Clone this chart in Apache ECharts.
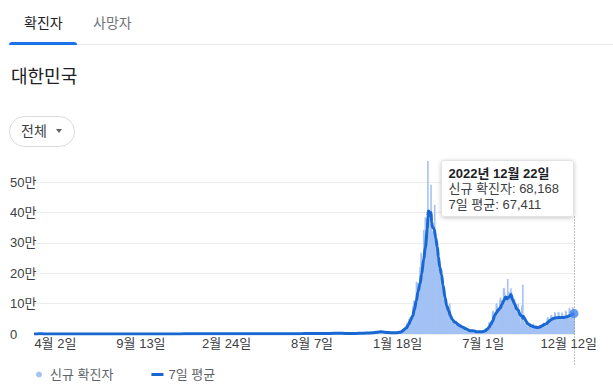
<!DOCTYPE html>
<html>
<head>
<meta charset="utf-8">
<script src="https://cdn.jsdelivr.net/npm/echarts@6/dist/echarts.min.js"></script>
<style>
html,body{margin:0;padding:0;background:#fff;width:613px;height:387px;overflow:hidden;}
body{font-family:"Liberation Sans",Arial,"Noto Sans CJK KR",sans-serif;position:relative;}
#chart{position:absolute;left:0;top:0;width:600px;height:387px;}
.abs{position:absolute;white-space:nowrap;z-index:5;}
</style>
</head>
<body>
<div id="chart"></div>
<div class="abs" style="left:24px;top:13px;font-size:14px;line-height:20px;color:#202124;">확진자</div>
<div class="abs" style="left:93px;top:13px;font-size:14px;line-height:20px;color:#70757a;">사망자</div>
<div class="abs" style="left:9px;top:44px;width:604px;height:1px;background:#e8eaed;"></div>
<div class="abs" style="left:9px;top:42px;width:68px;height:3px;background:#1a73e8;border-radius:3px 3px 0 0;"></div>
<div class="abs" style="left:11px;top:65px;font-size:18px;line-height:24px;color:#202124;">대한민국</div>
<div class="abs" style="left:9px;top:116px;width:64px;height:29px;border:1px solid #dadce0;border-radius:16px;"></div>
<div class="abs" style="left:21px;top:121px;font-size:14px;line-height:20px;color:#3c4043;">전체</div>
<div class="abs" style="left:56px;top:129px;width:0;height:0;border-left:3px solid transparent;border-right:3px solid transparent;border-top:4px solid #5f6368;"></div>
<script>
// ---------- DATA (values in thousands of people) ----------
// weekly samples of daily new cases, 2020-02-21 .. 2021-12-31 (every 7 days)
const weeklyStart = '2020-02-21';
const weeklyCasesK = [
  0.1,0.57,0.52,0.11,0.15,0.09,0.09,0.03,0.02,0.01,0.01,0.01,0.03,0.02,0.06,0.05,0.06,0.05,0.04,
  0.06,0.04,0.04,0.04,0.04,0.04,0.1,0.3,0.37,0.2,0.18,0.1,0.11,0.06,0.05,0.05,0.15,0.12,0.09,0.19,
  0.36,0.5,0.63,0.69,1.06,1.24,
  1.03,0.87,0.51,0.35,0.47,0.37,0.5,0.56,0.39,0.4,0.49,0.45,0.49,0.54,0.67,0.67,0.8,0.66,0.53,0.68,
  0.56,0.56,0.7,0.55,0.5,0.63,0.8,1.38,1.6,1.63,1.71,1.7,1.99,2.05,1.84,1.71,1.89,2.01,3.27,2.56,
  2.17,1.68,1.44,2.12,2.34,2.37,3.03,4.07,5.35,7.02,7.31,6.23,5.03
];
// daily new cases 2022
const dailyStart = '2022-01-01';
const jan22 = [4.4,3.8,3.1,3.0,4.4,4.1,3.7,3.5,3.4,3.0,3.1,4.4,4.2,4.5,4.4,4.2,3.9,4.1,5.8,6.6,6.8,7.0,7.6,7.5,8.6,13.0,14.5,16.1,17.5,17.5,18.3];
const feb22 = [20.3,20.3,22.9,27.4,36.4,38.7,35.3,36.7,49.6,54.1,53.9,54.9,56.4,54.0,57.2,90.4,93.1,109.8,102.2,104.8,95.4,99.6,171.5,170.0,165.9,166.2,163.6,139.6];
const mar22 = [139.0,219.2,198.8,266.9,254.3,243.6,210.7,202.7,342.4,327.5,283.0,383.7,350.2,309.8,362.3,400.7,569,407.0,381.5,334.7,209.2,354.0,490.9,395.6,339.5,335.6,318.1,187.2,347.6,424.6,320.7];
const apr22 = [280.3,264.2,234.3,127.2,266.1,286.3,224.8,205.3,185.6,164.5,90.9,210.8,195.4,148.4,125.8,107.9,93.0,47.7,118.5,111.3,90.9,81.1,75.4,64.7,34.4,76.8,68.2,100,50.6,42.3];
const may22 = [37.8,20.1,51.1,49.1,42.3,40.1,38.4,26.7,20.6,43.9,35.9,32.5,29.6,27.5,25.4,13.3,29.6,26.0,25.1,23.9,23.2,19.3,9.9,23.9,23.4,17.0,16.6,15.7,12.5,6.1,16.6];
const jun22 = [13.3,10.0,12.0,12.0,9.8,5.0,13.0,12.9,12.2,12.0,10.4,9.0,3.8,9.4,9.3,8.0,7.2,6.9,6.1,3.8,9.3,9.0,7.5,7.2,6.8,6.3,3.4,9.9,10.5,9.6];
const jul22 = [10.7,10.7,10.0,6.3,18.1,19.4,18.5,19.3,20.4,20.4,12.7,37.4,40.3,39.0,38.9,41.3,40.3,26.3,73.6,76.4,71.2,68.6,68.5,65.4,35.9,99.3,100.3,88.4,85.3,82.0,73.6];
const aug22 = [44.7,111.8,119.9,107.9,112.9,110.6,105.5,55.3,149.9,151.8,137.2,128.7,124.6,119.6,62.1,84.1,180.8,137.2,138.8,128.0,113.4,59.0,150.5,139.3,113.4,103.9,95.6,85.3,41.4,115.7,103.9];
const sep22 = [81.6,81.5,73.6,68.0,38.0,99.8,81.6,71.5,51.8,28.2,33.0,54.6,93.9,71.5,162,43.0,35.0,32.3,18.7,42.4,41.6,32.1,27.4,24.4,23.0,13.0,32.0,29.1,27.4,25.7];
const oct22 = [24.5,21.5,16.4,11.0,34.0,26.0,24.0,22.0,19.4,11.1,28.0,24.4,22.0,21.0,18.0,16.0,9.9,30.0,29.0,27.0,26.0,25.0,22.0,14.0,37.0,35.0,33.0,32.0,27.0,24.0,17.0];
const nov22 = [52,56,50,47,43,40,21,62,62,54,50,46,42,23,72,69,58,54,48,40,22,73,71,58,54,50,45,26,71,67];
const dec22 = [58,54,51,46,26,77,72,62,58,55,51,29,86,80,70,72,69.4,61,38,87.6,75.7,68.168];

// 7-day average
const avgDates = [
  '2020-02-21','2020-02-26','2020-03-01','2020-03-04','2020-03-08','2020-03-13','2020-03-22','2020-04-05','2020-04-20','2020-05-10',
  '2020-05-30','2020-06-20','2020-07-15','2020-08-05','2020-08-20','2020-08-30','2020-09-15','2020-10-10','2020-11-01','2020-11-20',
  '2020-12-05','2020-12-25','2021-01-10','2021-01-25','2021-02-15','2021-03-10','2021-04-10','2021-05-01','2021-05-25','2021-06-20',
  '2021-07-05','2021-07-20','2021-08-10','2021-08-25','2021-09-10','2021-09-27','2021-10-10','2021-10-25','2021-11-05','2021-11-20',
  '2021-12-01','2021-12-10','2021-12-17','2021-12-25',
  '2022-01-01','2022-01-08','2022-01-15','2022-01-22','2022-01-26','2022-01-29','2022-02-01','2022-02-04','2022-02-08','2022-02-12',
  '2022-02-16','2022-02-19','2022-02-23','2022-02-26','2022-03-02','2022-03-05','2022-03-09','2022-03-12','2022-03-16','2022-03-17',
  '2022-03-18','2022-03-20','2022-03-22','2022-03-23','2022-03-24','2022-03-26','2022-03-29','2022-04-01','2022-04-04','2022-04-06',
  '2022-04-09','2022-04-12','2022-04-15','2022-04-19','2022-04-22','2022-04-26','2022-04-29','2022-05-03','2022-05-07','2022-05-10',
  '2022-05-14','2022-05-17','2022-05-21','2022-05-24','2022-05-28','2022-05-31','2022-06-04','2022-06-07','2022-06-11','2022-06-14',
  '2022-06-18','2022-06-21','2022-06-25','2022-06-28','2022-07-02','2022-07-05','2022-07-09','2022-07-12','2022-07-16','2022-07-19',
  '2022-07-23','2022-07-26','2022-07-30','2022-08-02','2022-08-06','2022-08-09','2022-08-13','2022-08-16','2022-08-17','2022-08-20',
  '2022-08-23','2022-08-27','2022-08-30','2022-09-03','2022-09-06','2022-09-10','2022-09-13','2022-09-15','2022-09-16','2022-09-18',
  '2022-09-21','2022-09-25','2022-10-01','2022-10-07','2022-10-13','2022-10-18','2022-10-22','2022-10-26','2022-10-30','2022-11-03',
  '2022-11-07','2022-11-11','2022-11-15','2022-11-19','2022-11-23','2022-11-27','2022-12-01','2022-12-05','2022-12-09','2022-12-13',
  '2022-12-17','2022-12-20','2022-12-22'
];
const avgValuesK = [
  0.05,0.2,0.5,0.6,0.45,0.15,0.1,0.09,0.02,0.02,
  0.04,0.05,0.04,0.03,0.2,0.33,0.12,0.07,0.1,0.25,
  0.55,1.03,0.7,0.45,0.45,0.43,0.6,0.62,0.58,0.45,
  0.8,1.45,1.6,1.8,1.8,2.5,1.7,1.4,2.2,3.0,
  4.1,6.0,7.1,5.8,
  4.8,3.8,4.1,5.5,8.2,12.1,16.7,20.6,31.1,46.2,
  60.1,80.4,110.9,139.1,166.2,197.3,245.6,284.8,345.3,387.3,
  405.0,402.5,386.9,399.8,367.5,351.3,344.9,316.3,285.6,254.2,
  218.5,195.5,160.2,119.6,92.9,76.4,61.1,46.8,39.8,37.3,
  31.0,27.7,23.8,21.6,18.0,15.4,11.8,10.7,10.8,10.0,
  7.7,7.2,7.1,7.2,8.7,10.8,16.0,21.2,32.9,42.8,
  60.7,69.3,79.5,83.7,97.3,108.9,121.9,115.4,119.6,121.5,
  129.7,110.7,99.2,83.3,78.1,62.7,58,52,58,53,
  42,33,27,23,21.5,23,27,31,34,40,
  46,50,52.5,53.5,54,54,54,55,57,60,
  63,65.5,67.411
];

// x-axis tick label dates
const xTickDates = ['2020-04-02','2020-09-13','2021-02-24','2021-08-07','2022-01-18','2022-07-01','2022-12-12'];
const xMinDate = '2020-02-21';
const xMaxDate = '2022-12-22';

// ---------- build ----------
const FONT = '"Liberation Sans", Arial, "Noto Sans CJK KR", sans-serif';
function parts(s){ return s.split('-').map(Number); }
function ts(s){ const p = parts(s); return new Date(p[0], p[1]-1, p[2]).getTime(); }
function addDays(s, n){ const p = parts(s); return new Date(p[0], p[1]-1, p[2]+n).getTime(); }

const dailyK = [].concat(jan22, feb22, mar22, apr22, may22, jun22, jul22, aug22, sep22, oct22, nov22, dec22);
const barData = weeklyCasesK.map((v,i)=>[addDays(weeklyStart, i*7), Math.round(v*1000)])
  .concat(dailyK.map((v,i)=>[addDays(dailyStart, i), Math.round(v*1000)]));
const avgData = avgDates.map((d,i)=>[ts(d), Math.round(avgValuesK[i]*1000)]);
const lastAvg = avgData[avgData.length-1];
const lastDaily = barData[barData.length-1];

const chart = echarts.init(document.getElementById('chart'), null, {renderer:'svg'});
chart.setOption({
  animation:false,
  grid:{left:34, right:18, top:182, bottom:53},
  xAxis:{
    type:'value', min:ts(xMinDate), max:ts(xMaxDate),
    axisLine:{show:false}, axisTick:{show:false}, splitLine:{show:false},
    axisLabel:{
      customValues: xTickDates.map(ts),
      formatter:function(v){ const d=new Date(v); return (d.getMonth()+1)+'월 '+d.getDate()+'일'; },
      color:'#3c4043', fontSize:13, fontFamily:FONT, margin:3, hideOverlap:false
    }
  },
  yAxis:{
    type:'value', min:0, max:500000, interval:100000,
    axisLine:{show:false}, axisTick:{show:false},
    splitLine:{lineStyle:{color:'#ececec', width:1}},
    axisLabel:{
      formatter:function(v){ return v===0 ? '0' : (v/10000)+'만'; },
      align:'left', margin:24, color:'#3c4043', fontSize:13, fontFamily:FONT
    }
  },
  legend:{
    left:31, top:363, itemWidth:12, itemHeight:6, itemGap:38, selectedMode:false,
    textStyle:{color:'#5f6368', fontSize:13, fontFamily:FONT},
    data:[{name:'신규 확진자', icon:'circle'},{name:'7일 평균', icon:'path://M0,0L40,0L40,10L0,10Z'}]
  },
  series:[
    {name:'신규 확진자', type:'bar', data:barData, barWidth:1.6, clip:false, silent:true,
     itemStyle:{color:'#a4c2f4'}, z:1},
    {name:'7일 평균', type:'line', data:avgData, smooth:0.35, smoothMonotone:'x', showSymbol:false, silent:true,
     lineStyle:{width:3, color:'#1967d2'}, itemStyle:{color:'#1967d2'}, z:3},
    {type:'scatter', data:[lastAvg], symbolSize:9, silent:true, itemStyle:{color:'#4285f4'}, z:4}
  ]
});

const p = chart.convertToPixel({seriesIndex:1}, lastAvg);
const lx = Math.round(p[0]) + 0.5;
const boxW = 132, boxH = 56, boxT = 160.5, boxL = Math.round(p[0]) - 1 - boxW + 0.5;
const d = new Date(lastAvg[0]);
const title = d.getFullYear()+'년 '+(d.getMonth()+1)+'월 '+d.getDate()+'일';
chart.setOption({graphic:[
  {type:'line', silent:true, z:50, shape:{x1:lx, y1:boxT+boxH, x2:lx, y2:365},
   style:{stroke:'#80868b', lineWidth:1, lineDash:[1,2]}},
  {type:'rect', silent:true, z:60, shape:{x:boxL, y:boxT, width:boxW, height:boxH, r:2},
   style:{fill:'#fff', stroke:'#e3e3e3', lineWidth:1, shadowBlur:4, shadowColor:'rgba(0,0,0,0.22)', shadowOffsetY:1}},
  {type:'text', silent:true, z:61, x:boxL+7, y:boxT+13,
   style:{text:title, fill:'#202124', font:'bold 13px '+FONT, verticalAlign:'middle'}},
  {type:'text', silent:true, z:61, x:boxL+7, y:boxT+28,
   style:{text:'신규 확진자: '+lastDaily[1].toLocaleString('en-US'), fill:'#3c4043', font:'13px '+FONT, verticalAlign:'middle'}},
  {type:'text', silent:true, z:61, x:boxL+7, y:boxT+44,
   style:{text:'7일 평균: '+lastAvg[1].toLocaleString('en-US'), fill:'#3c4043', font:'13px '+FONT, verticalAlign:'middle'}}
]});
</script>
</body>
</html>
